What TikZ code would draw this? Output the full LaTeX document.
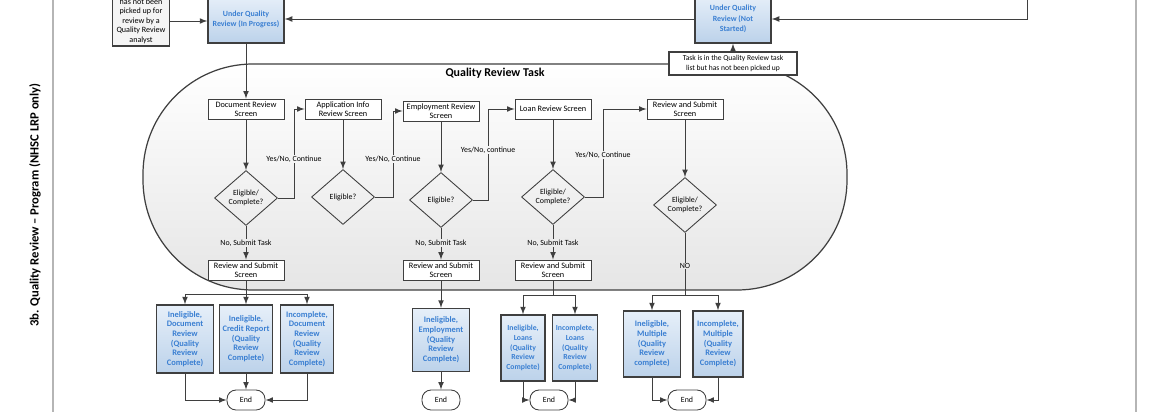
\documentclass[tikz,border=0pt]{standalone}
\usepackage{fontspec}
\setmainfont{Carlito}
\usetikzlibrary{arrows,calc,shapes.geometric,shadows}

\definecolor{qrline}{HTML}{3F3F3F}
\definecolor{qrblue}{HTML}{3A7FD2}
\definecolor{qrfilltop}{HTML}{E6EFF9}
\definecolor{qrfillbot}{HTML}{BCD2EA}
\definecolor{qrframe}{HTML}{B5B5B5}

\tikzset{
  screen/.style={draw=qrline,fill=white,line width=0.5pt,align=center,
    font=\fontsize{4.7}{5.4}\selectfont,minimum width=1.52cm,minimum height=0.4cm,inner sep=0.5pt,
    drop shadow={shadow xshift=0.5pt,shadow yshift=-0.5pt,fill=black!55,opacity=1}},
  decide/.style={diamond,draw=qrline,line width=0.5pt,align=center,
    font=\fontsize{4.5}{5.2}\selectfont,minimum width=1.26cm,minimum height=1.1cm,inner sep=0pt},
  outcome/.style={draw=qrline,line width=0.8pt,top color=qrfilltop,bottom color=qrfillbot,
    text=qrblue,align=center,font=\bfseries\fontsize{4.8}{5.5}\selectfont,inner sep=0.5pt},
  finish/.style={draw=qrline,fill=white,line width=0.5pt,rounded corners=0.18cm,
    minimum width=0.76cm,minimum height=0.4cm,font=\fontsize{4.5}{5}\selectfont},
  note/.style={draw=qrline,fill=white,line width=0.6pt,align=center,
    font=\fontsize{4.3}{5.2}\selectfont,inner sep=1pt,
    drop shadow={shadow xshift=0.5pt,shadow yshift=-0.5pt,fill=black!55,opacity=1}},
  lbl/.style={fill=gray!8,inner sep=0.4pt,font=\fontsize{4.5}{5}\selectfont},
  flow/.style={qrline,line width=0.5pt,->}
}

\begin{document}
\begin{tikzpicture}[x=0.02cm,y=-0.02cm,>=latex]
\useasboundingbox (0,0) rectangle (1163,412);

\draw[qrframe,line width=1pt] (53,0) -- (53,412);
\draw[qrframe,line width=1pt] (1136,0) -- (1136,412);
\node[rotate=90,font=\bfseries\fontsize{7.2}{8}\selectfont] (lane) at (35,205) {3b. Quality Review -- Program (NHSC LRP only)};

\draw[qrline,line width=0.7pt,top color=white,bottom color=gray!20,rounded corners=2.2cm] (143,64) rectangle (847,290);
\node[font=\bfseries\fontsize{6.8}{8}\selectfont] (qrtask) at (495,73) {Quality Review Task};

\node[note,fill=gray!8,minimum width=1.14cm,minimum height=1.0cm,font=\fontsize{4.6}{5.4}\selectfont] (pending) at (141,21) {has not been\\picked up for\\review by a\\Quality Review\\analyst};
\node[outcome,minimum width=1.52cm,minimum height=0.94cm,font=\bfseries\fontsize{4.5}{5.8}\selectfont] (inprog) at (246,19.5) {Under Quality\\Review (In Progress)};
\node[outcome,minimum width=1.52cm,minimum height=0.96cm,font=\bfseries\fontsize{4.5}{5.8}\selectfont] (notstarted) at (733,19) {Under Quality\\Review (Not\\Started)};
\node[note,minimum width=2.56cm,minimum height=0.46cm] (pool) at (733,63.5) {Task is in the Quality Review task\\list but has not been picked up};
\coordinate (feed) at (1027,-5);

\node[screen] (docrev) at (246,109) {Document Review\\Screen};
\node[screen] (appinfo) at (343,109) {Application Info\\Review Screen};
\node[screen] (emprev) at (441,111) {Employment Review\\Screen};
\node[screen] (loanrev) at (553,109) {Loan Review Screen};
\node[screen] (submit) at (685,109) {Review and Submit\\Screen};

\node[decide] (elig1) at (246,198) {Eligible/\\Complete?};
\node[decide] (elig2) at (343,197) {Eligible?};
\node[decide] (elig3) at (441,200) {Eligible?};
\node[decide] (elig4) at (553,197) {Eligible/\\Complete?};
\node[decide] (elig5) at (685,205) {Eligible/\\Complete?};

\node[screen] (rs1) at (246,270) {Review and Submit\\Screen};
\node[screen] (rs3) at (441,270) {Review and Submit\\Screen};
\node[screen] (rs4) at (553,270) {Review and Submit\\Screen};

\node[outcome,minimum width=1.14cm,minimum height=1.36cm] (docinel) at (185,339) {Ineligible,\\Document\\Review\\(Quality\\Review\\Complete)};
\node[outcome,minimum width=1.06cm,minimum height=1.36cm] (creditinel) at (246,339) {Ineligible,\\Credit Report\\(Quality\\Review\\Complete)};
\node[outcome,minimum width=1.06cm,minimum height=1.36cm] (docincomp) at (307,339) {Incomplete,\\Document\\Review\\(Quality\\Review\\Complete)};
\node[outcome,minimum width=1.14cm,minimum height=1.26cm] (empinel) at (441,340) {Ineligible,\\Employment\\(Quality\\Review\\Complete)};
\node[outcome,minimum width=0.88cm,minimum height=1.32cm,font=\bfseries\fontsize{4.4}{5.5}\selectfont] (loaninel) at (523,348) {Ineligible,\\Loans\\(Quality\\Review\\Complete)};
\node[outcome,minimum width=0.9cm,minimum height=1.32cm,font=\bfseries\fontsize{4.4}{5.5}\selectfont] (loanincomp) at (575,348) {Incomplete,\\Loans\\(Quality\\Review\\Complete)};
\node[outcome,minimum width=1.14cm,minimum height=1.32cm] (multiinel) at (652,344) {Ineligible,\\Multiple\\(Quality\\Review\\complete)};
\node[outcome,minimum width=1.0cm,minimum height=1.32cm] (multiincomp) at (718,344) {Incomplete,\\Multiple\\(Quality\\Review\\Complete)};

\node[finish] (end1) at (246,400) {End};
\node[finish] (end2) at (441,400) {End};
\node[finish] (end3) at (549,400) {End};
\node[finish] (end4) at (687,400) {End};

\coordinate (fork1) at (246,294);
\coordinate (fork3) at (553,295);
\coordinate (fork4) at (685,295);

\draw[flow] (pending.east) -- (pending.east -| inprog.west);
\draw[flow] (notstarted.west) -- (notstarted.west -| inprog.east);
\draw[flow] (feed) |- (notstarted.east);
\draw[flow] (pool) -- (notstarted);
\draw[flow] (inprog) -- (docrev);

\draw[flow] (docrev) -- (elig1);
\draw[flow] (appinfo) -- (elig2);
\draw[flow] (emprev) -- (elig3);
\draw[flow] (loanrev) -- (elig4);
\draw[flow] (submit) -- (elig5);

\draw[flow] (elig1.east) -- ++(16.5,0) |- (appinfo.west);
\draw[flow] (elig2.east) -- ++(18.5,0) |- (emprev.west);
\draw[flow] (elig3.east) -- ++(15.5,0) |- (loanrev.west);
\draw[flow] (elig4.east) -- ++(18.5,0) |- (submit.west);
\node[lbl] (yes1) at (294,159) {Yes/No, Continue};
\node[lbl] (yes2) at (393,159) {Yes/No, Continue};
\node[lbl] (yes3) at (488,150) {Yes/No, continue};
\node[lbl] (yes4) at (603,155) {Yes/No, Continue};

\draw[flow] (elig1) -- (rs1);
\draw[flow] (elig3) -- (rs3);
\draw[flow] (elig4) -- (rs4);
\draw[qrline,line width=0.5pt] (elig5) -- (fork4);
\node[lbl,fill=gray!15] (no1) at (246,243) {No, Submit Task};
\node[lbl,fill=gray!15] (no3) at (441,243) {No, Submit Task};
\node[lbl,fill=gray!15] (no4) at (553,243) {No, Submit Task};
\node[lbl,fill=gray!17] (no5) at (685,266) {NO};

\draw[qrline,line width=0.5pt] (rs1) -- (fork1);
\draw[flow] (fork1) -| (docinel);
\draw[flow] (fork1) -- (creditinel);
\draw[flow] (fork1) -| (docincomp);
\draw[flow] (rs3) -- (empinel);
\draw[qrline,line width=0.5pt] (rs4) -- (fork3);
\draw[flow] (fork3) -| (loaninel);
\draw[flow] (fork3) -| (loanincomp);
\draw[flow] (fork4) -| (multiinel);
\draw[flow] (fork4) -| (multiincomp);

\draw[flow] (docinel) |- (end1);
\draw[flow] (creditinel) -- (end1);
\draw[flow] (docincomp) |- (end1);
\draw[flow] (empinel) -- (end2);
\draw[flow] (loaninel) |- (end3);
\draw[flow] (loanincomp) |- (end3);
\draw[flow] (multiinel) |- (end4);
\draw[flow] (multiincomp) |- (end4);

\end{tikzpicture}
\end{document}
